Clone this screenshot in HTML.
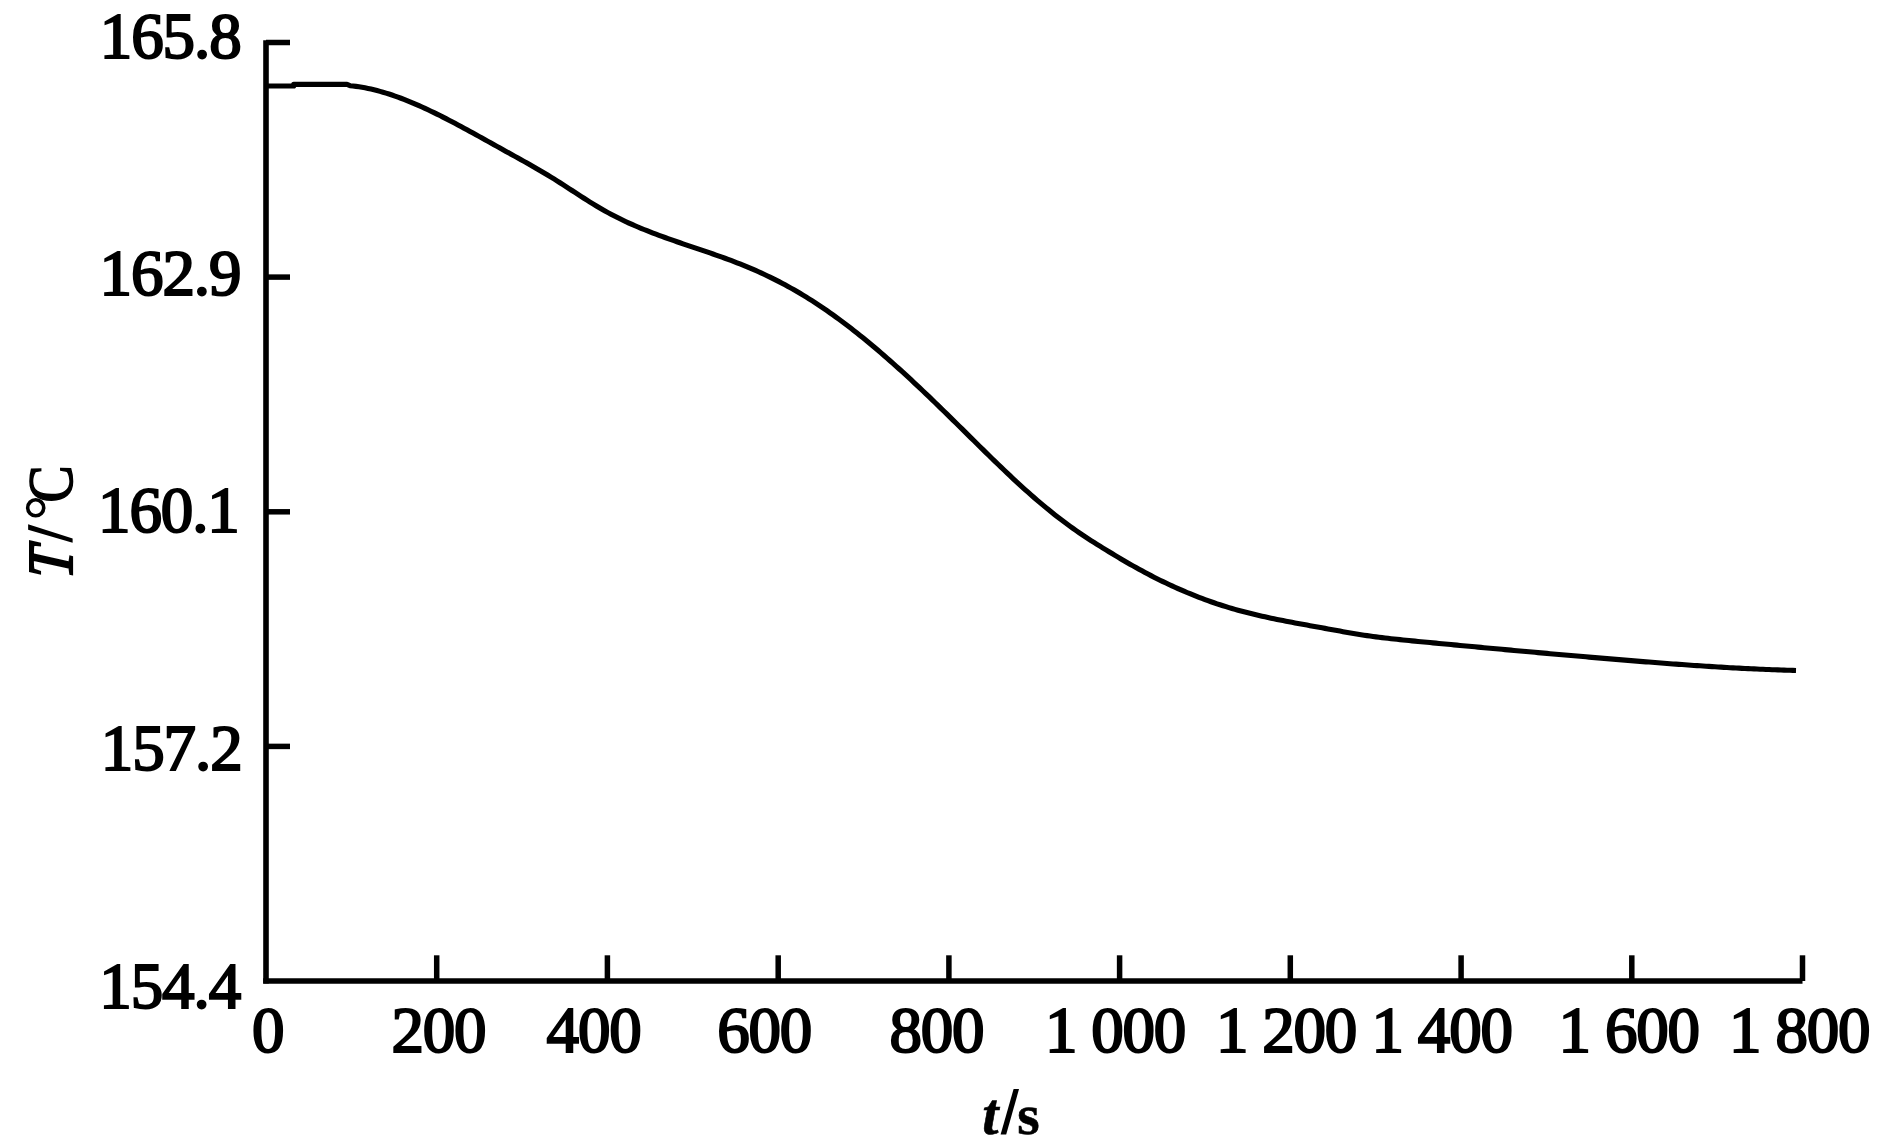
<!DOCTYPE html>
<html><head><meta charset="utf-8"><style>
html,body{margin:0;padding:0;background:#fff;}
body{width:1882px;height:1148px;overflow:hidden;}
svg{display:block;}
.n{font-family:"Liberation Serif",serif;font-size:65px;letter-spacing:-1.20px;fill:#000;stroke:#000;stroke-width:2.10px;}
.ny{letter-spacing:-1.1px;}
.ts{font-family:"Liberation Serif",serif;font-style:italic;font-weight:bold;font-size:58.5px;fill:#000;stroke:#000;stroke-width:0.6px;}
.ts2{font-family:"Liberation Serif",serif;font-weight:bold;font-size:57.5px;fill:#000;stroke:#000;stroke-width:0.6px;}
.yt{font-family:"Liberation Serif",serif;font-size:64px;fill:#000;stroke:#000;stroke-width:1.6px;}
</style></head><body>
<svg width="1882" height="1148" viewBox="0 0 1882 1148">
<rect width="1882" height="1148" fill="#fff"/>
<line x1="266.0" y1="40.2" x2="266.0" y2="983.5" stroke="#000" stroke-width="5.6"/>
<line x1="263.2" y1="981.0" x2="1802.5" y2="981.0" stroke="#000" stroke-width="5.6"/>
<line x1="266.0" y1="42.5" x2="290" y2="42.5" stroke="#000" stroke-width="5.5"/>
<line x1="266.0" y1="277.1" x2="290" y2="277.1" stroke="#000" stroke-width="5.5"/>
<line x1="266.0" y1="511.8" x2="290" y2="511.8" stroke="#000" stroke-width="5.5"/>
<line x1="266.0" y1="746.4" x2="290" y2="746.4" stroke="#000" stroke-width="5.5"/>
<line x1="436.7" y1="955.3" x2="436.7" y2="981.0" stroke="#000" stroke-width="5.5"/>
<line x1="607.4" y1="955.3" x2="607.4" y2="981.0" stroke="#000" stroke-width="5.5"/>
<line x1="778.2" y1="955.3" x2="778.2" y2="981.0" stroke="#000" stroke-width="5.5"/>
<line x1="948.9" y1="955.3" x2="948.9" y2="981.0" stroke="#000" stroke-width="5.5"/>
<line x1="1119.6" y1="955.3" x2="1119.6" y2="981.0" stroke="#000" stroke-width="5.5"/>
<line x1="1290.3" y1="955.3" x2="1290.3" y2="981.0" stroke="#000" stroke-width="5.5"/>
<line x1="1461.1" y1="955.3" x2="1461.1" y2="981.0" stroke="#000" stroke-width="5.5"/>
<line x1="1631.8" y1="955.3" x2="1631.8" y2="981.0" stroke="#000" stroke-width="5.5"/>
<line x1="1802.5" y1="955.3" x2="1802.5" y2="981.0" stroke="#000" stroke-width="5.5"/>
<path d="M266.0 86.00 L293.7 86.00 L293.7 84.40 L347.0 84.40 L350.0 85.66 L353.0 85.99 L356.0 86.38 L359.0 86.82 L362.0 87.31 L365.0 87.85 L368.0 88.45 L371.0 89.10 L374.0 89.81 L377.0 90.56 L380.0 91.37 L383.0 92.22 L386.0 93.11 L389.0 94.05 L392.0 95.04 L395.0 96.07 L398.0 97.13 L401.0 98.24 L404.0 99.39 L407.0 100.57 L410.0 101.79 L413.0 103.04 L416.0 104.32 L419.0 105.63 L422.0 106.98 L425.0 108.35 L428.0 109.75 L431.0 111.18 L434.0 112.63 L437.0 114.10 L440.0 115.59 L443.0 117.11 L446.0 118.64 L449.0 120.19 L452.0 121.76 L455.0 123.34 L458.0 124.93 L461.0 126.54 L464.0 128.15 L467.0 129.78 L470.0 131.42 L473.0 133.06 L476.0 134.71 L479.0 136.37 L482.0 138.03 L485.0 139.70 L488.0 141.37 L491.0 143.04 L494.0 144.72 L497.0 146.39 L500.0 148.06 L503.0 149.73 L506.0 151.40 L509.0 153.06 L512.0 154.73 L515.0 156.39 L518.0 158.05 L521.0 159.72 L524.0 161.40 L527.0 163.08 L530.0 164.78 L533.0 166.48 L536.0 168.21 L539.0 169.94 L542.0 171.70 L545.0 173.48 L548.0 175.28 L551.0 177.10 L554.0 178.95 L557.0 180.83 L560.0 182.74 L563.0 184.66 L566.0 186.59 L569.0 188.54 L572.0 190.49 L575.0 192.45 L578.0 194.39 L581.0 196.33 L584.0 198.26 L587.0 200.17 L590.0 202.05 L593.0 203.91 L596.0 205.73 L599.0 207.52 L602.0 209.26 L605.0 210.96 L608.0 212.62 L611.0 214.23 L614.0 215.80 L617.0 217.32 L620.0 218.81 L623.0 220.26 L626.0 221.68 L629.0 223.06 L632.0 224.41 L635.0 225.73 L638.0 227.02 L641.0 228.28 L644.0 229.51 L647.0 230.72 L650.0 231.90 L653.0 233.06 L656.0 234.21 L659.0 235.33 L662.0 236.43 L665.0 237.52 L668.0 238.60 L671.0 239.66 L674.0 240.71 L677.0 241.75 L680.0 242.78 L683.0 243.81 L686.0 244.83 L689.0 245.84 L692.0 246.86 L695.0 247.87 L698.0 248.88 L701.0 249.90 L704.0 250.91 L707.0 251.94 L710.0 252.96 L713.0 254.00 L716.0 255.05 L719.0 256.11 L722.0 257.18 L725.0 258.26 L728.0 259.36 L731.0 260.47 L734.0 261.61 L737.0 262.76 L740.0 263.94 L743.0 265.14 L746.0 266.36 L749.0 267.61 L752.0 268.89 L755.0 270.19 L758.0 271.52 L761.0 272.88 L764.0 274.26 L767.0 275.68 L770.0 277.12 L773.0 278.60 L776.0 280.10 L779.0 281.64 L782.0 283.21 L785.0 284.81 L788.0 286.44 L791.0 288.11 L794.0 289.80 L797.0 291.54 L800.0 293.30 L803.0 295.10 L806.0 296.94 L809.0 298.81 L812.0 300.71 L815.0 302.64 L818.0 304.60 L821.0 306.60 L824.0 308.63 L827.0 310.69 L830.0 312.79 L833.0 314.91 L836.0 317.07 L839.0 319.26 L842.0 321.47 L845.0 323.72 L848.0 326.00 L851.0 328.31 L854.0 330.65 L857.0 333.01 L860.0 335.40 L863.0 337.82 L866.0 340.27 L869.0 342.74 L872.0 345.24 L875.0 347.76 L878.0 350.30 L881.0 352.87 L884.0 355.47 L887.0 358.08 L890.0 360.72 L893.0 363.38 L896.0 366.05 L899.0 368.75 L902.0 371.47 L905.0 374.21 L908.0 376.96 L911.0 379.73 L914.0 382.52 L917.0 385.33 L920.0 388.15 L923.0 390.99 L926.0 393.84 L929.0 396.71 L932.0 399.59 L935.0 402.48 L938.0 405.38 L941.0 408.30 L944.0 411.23 L947.0 414.16 L950.0 417.11 L953.0 420.06 L956.0 423.02 L959.0 425.98 L962.0 428.94 L965.0 431.91 L968.0 434.87 L971.0 437.84 L974.0 440.80 L977.0 443.76 L980.0 446.71 L983.0 449.66 L986.0 452.60 L989.0 455.54 L992.0 458.46 L995.0 461.37 L998.0 464.27 L1001.0 467.16 L1004.0 470.02 L1007.0 472.87 L1010.0 475.70 L1013.0 478.52 L1016.0 481.30 L1019.0 484.07 L1022.0 486.81 L1025.0 489.52 L1028.0 492.20 L1031.0 494.86 L1034.0 497.48 L1037.0 500.07 L1040.0 502.63 L1043.0 505.15 L1046.0 507.64 L1049.0 510.09 L1052.0 512.51 L1055.0 514.89 L1058.0 517.24 L1061.0 519.55 L1064.0 521.82 L1067.0 524.06 L1070.0 526.25 L1073.0 528.41 L1076.0 530.53 L1079.0 532.61 L1082.0 534.65 L1085.0 536.65 L1088.0 538.62 L1091.0 540.55 L1094.0 542.46 L1097.0 544.34 L1100.0 546.20 L1103.0 548.05 L1106.0 549.89 L1109.0 551.72 L1112.0 553.54 L1115.0 555.36 L1118.0 557.16 L1121.0 558.94 L1124.0 560.71 L1127.0 562.46 L1130.0 564.19 L1133.0 565.89 L1136.0 567.57 L1139.0 569.23 L1142.0 570.86 L1145.0 572.47 L1148.0 574.06 L1151.0 575.62 L1154.0 577.16 L1157.0 578.67 L1160.0 580.17 L1163.0 581.63 L1166.0 583.07 L1169.0 584.49 L1172.0 585.88 L1175.0 587.25 L1178.0 588.60 L1181.0 589.92 L1184.0 591.21 L1187.0 592.48 L1190.0 593.72 L1193.0 594.94 L1196.0 596.14 L1199.0 597.31 L1202.0 598.45 L1205.0 599.57 L1208.0 600.66 L1211.0 601.73 L1214.0 602.77 L1217.0 603.79 L1220.0 604.78 L1223.0 605.75 L1226.0 606.69 L1229.0 607.60 L1232.0 608.49 L1235.0 609.35 L1238.0 610.19 L1241.0 611.01 L1244.0 611.81 L1247.0 612.58 L1250.0 613.34 L1253.0 614.08 L1256.0 614.79 L1259.0 615.50 L1262.0 616.18 L1265.0 616.85 L1268.0 617.51 L1271.0 618.15 L1274.0 618.78 L1277.0 619.40 L1280.0 620.00 L1283.0 620.60 L1286.0 621.19 L1289.0 621.76 L1292.0 622.34 L1295.0 622.90 L1298.0 623.46 L1301.0 624.01 L1304.0 624.56 L1307.0 625.11 L1310.0 625.66 L1313.0 626.20 L1316.0 626.74 L1319.0 627.29 L1322.0 627.83 L1325.0 628.38 L1328.0 628.93 L1331.0 629.48 L1334.0 630.03 L1337.0 630.57 L1340.0 631.11 L1343.0 631.65 L1346.0 632.18 L1349.0 632.70 L1352.0 633.21 L1355.0 633.72 L1358.0 634.21 L1361.0 634.69 L1364.0 635.16 L1367.0 635.61 L1370.0 636.05 L1373.0 636.46 L1376.0 636.87 L1379.0 637.26 L1382.0 637.63 L1385.0 637.99 L1388.0 638.34 L1391.0 638.68 L1394.0 639.01 L1397.0 639.33 L1400.0 639.65 L1403.0 639.95 L1406.0 640.25 L1409.0 640.55 L1412.0 640.84 L1415.0 641.13 L1418.0 641.42 L1421.0 641.71 L1424.0 642.00 L1427.0 642.29 L1430.0 642.57 L1433.0 642.86 L1436.0 643.15 L1439.0 643.43 L1442.0 643.72 L1445.0 644.00 L1448.0 644.29 L1451.0 644.57 L1454.0 644.86 L1457.0 645.14 L1460.0 645.42 L1463.0 645.70 L1466.0 645.99 L1469.0 646.27 L1472.0 646.55 L1475.0 646.83 L1478.0 647.11 L1481.0 647.39 L1484.0 647.67 L1487.0 647.95 L1490.0 648.23 L1493.0 648.50 L1496.0 648.78 L1499.0 649.06 L1502.0 649.33 L1505.0 649.61 L1508.0 649.88 L1511.0 650.16 L1514.0 650.43 L1517.0 650.71 L1520.0 650.98 L1523.0 651.25 L1526.0 651.52 L1529.0 651.79 L1532.0 652.06 L1535.0 652.33 L1538.0 652.60 L1541.0 652.87 L1544.0 653.14 L1547.0 653.41 L1550.0 653.67 L1553.0 653.94 L1556.0 654.21 L1559.0 654.47 L1562.0 654.74 L1565.0 655.00 L1568.0 655.26 L1571.0 655.53 L1574.0 655.79 L1577.0 656.05 L1580.0 656.31 L1583.0 656.57 L1586.0 656.83 L1589.0 657.09 L1592.0 657.34 L1595.0 657.60 L1598.0 657.86 L1601.0 658.11 L1604.0 658.37 L1607.0 658.62 L1610.0 658.87 L1613.0 659.13 L1616.0 659.38 L1619.0 659.63 L1622.0 659.88 L1625.0 660.13 L1628.0 660.38 L1631.0 660.62 L1634.0 660.87 L1637.0 661.11 L1640.0 661.36 L1643.0 661.60 L1646.0 661.84 L1649.0 662.08 L1652.0 662.31 L1655.0 662.55 L1658.0 662.78 L1661.0 663.01 L1664.0 663.24 L1667.0 663.47 L1670.0 663.70 L1673.0 663.92 L1676.0 664.14 L1679.0 664.36 L1682.0 664.58 L1685.0 664.79 L1688.0 665.00 L1691.0 665.21 L1694.0 665.42 L1697.0 665.62 L1700.0 665.83 L1703.0 666.02 L1706.0 666.22 L1709.0 666.41 L1712.0 666.60 L1715.0 666.79 L1718.0 666.98 L1721.0 667.16 L1724.0 667.33 L1727.0 667.51 L1730.0 667.68 L1733.0 667.85 L1736.0 668.01 L1739.0 668.17 L1742.0 668.33 L1745.0 668.48 L1748.0 668.63 L1751.0 668.78 L1754.0 668.92 L1757.0 669.05 L1760.0 669.19 L1763.0 669.32 L1766.0 669.44 L1769.0 669.56 L1772.0 669.68 L1775.0 669.79 L1778.0 669.90 L1781.0 670.00 L1784.0 670.10 L1787.0 670.20 L1790.0 670.28 L1793.0 670.37 L1796.0 670.45" fill="none" stroke="#000" stroke-width="5.1" stroke-linejoin="round"/>
<text x="99.8" y="58.2" class="n ny">165.8</text>
<text x="99.6" y="295.0" class="n ny">162.9</text>
<text x="98.0" y="531.8" class="n ny">160.1</text>
<text x="100.8" y="769.8" class="n ny">157.2</text>
<text x="99.3" y="1007.6" class="n ny">154.4</text>
<text x="252.0" y="1051.6" class="n">0</text>
<text x="391.5" y="1051.6" class="n">200</text>
<text x="546.6" y="1051.6" class="n">400</text>
<text x="717.2" y="1051.6" class="n">600</text>
<text x="889.5" y="1051.6" class="n">800</text>
<text x="1044.9" y="1051.6" class="n">1&#160;000</text>
<text x="1215.9" y="1051.6" class="n">1&#160;200</text>
<text x="1371.5" y="1051.6" class="n">1&#160;400</text>
<text x="1558.6" y="1051.6" class="n">1&#160;600</text>
<text x="1729.1" y="1051.6" class="n">1&#160;800</text>
<text x="982.3" y="1134" class="ts">t</text>
<path d="M1000.6 1134.6 L1006.2 1134.6 L1019 1089.1 L1013.6 1089.1 Z" fill="#000"/>
<text x="1017.3" y="1133.7" class="ts2">s</text>
<g transform="translate(71.8,578.4) rotate(-90)"><text x="0" y="0" class="yt" font-style="italic" transform="translate(-0.8,0) skewX(-3.5) scale(0.9,1)" style="stroke-width:2.2px">T</text><path d="M35.7 0.8 L39.8 0.8 L54.2 -43.7 L48.7 -43.7 Z" fill="#000"/><circle cx="70.6" cy="-36.1" r="8" fill="none" stroke="#000" stroke-width="3.6"/><text x="0" y="0" class="yt" transform="translate(76,0) scale(0.87,1)">C</text></g>
</svg></body></html>
